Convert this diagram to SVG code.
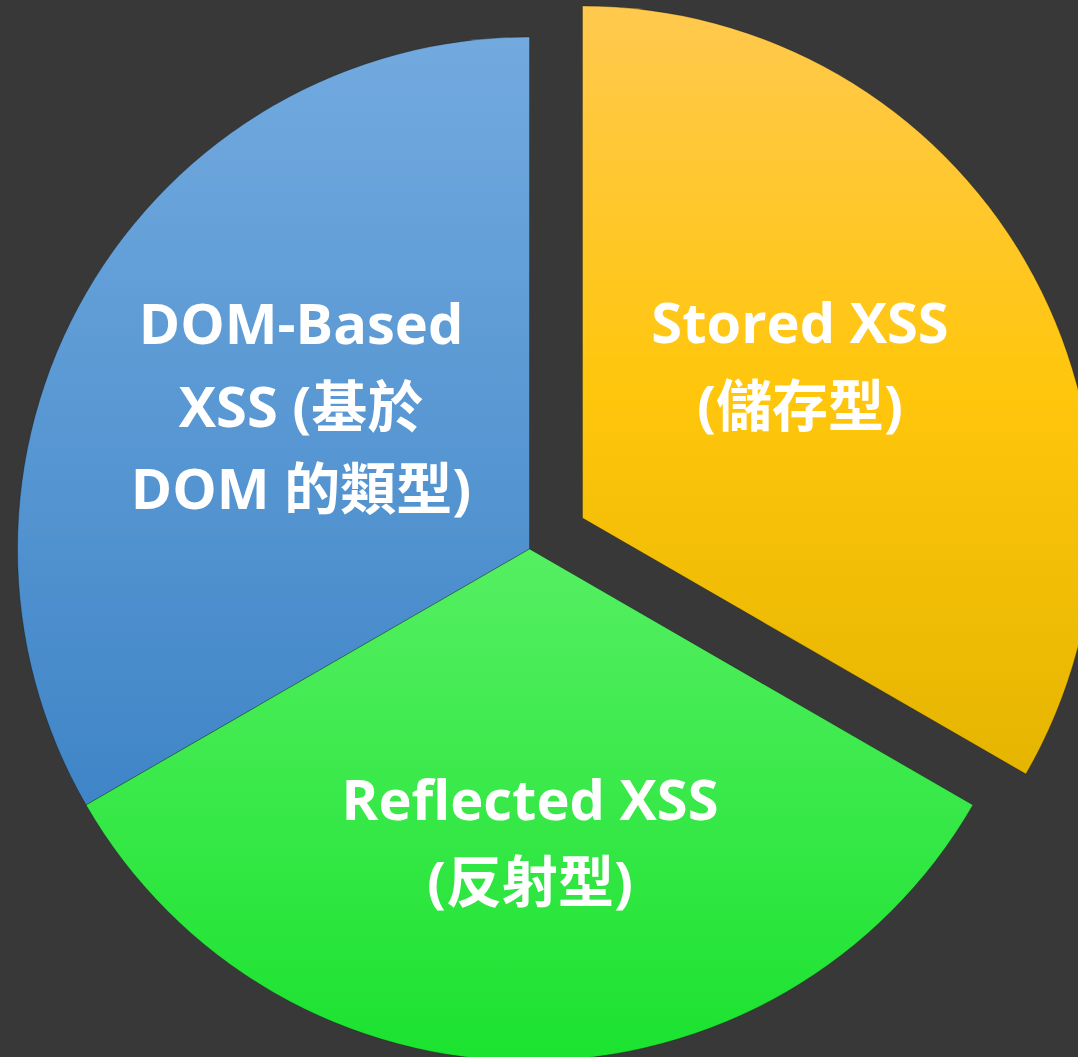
<svg xmlns="http://www.w3.org/2000/svg" width="1078" height="1057" viewBox="0 0 1078 1057">
<style>
.slice{stroke:rgba(0,0,0,0.25);stroke-width:1}
.lbl{font-family:"Open Sans","Noto Sans CJK TC",sans-serif;font-weight:bold;font-size:56px;fill:#ffffff;text-anchor:middle}
</style>
<defs>
<linearGradient id="gBlue" x1="0" y1="0" x2="0" y2="1">
<stop offset="0" stop-color="#72aadf"/>
<stop offset="1" stop-color="#3f85c7"/>
</linearGradient>
<linearGradient id="gYellow" x1="0" y1="0" x2="0" y2="1">
<stop offset="0" stop-color="#ffc94e"/>
<stop offset="0.5" stop-color="#ffc60c"/>
<stop offset="1" stop-color="#e5b500"/>
</linearGradient>
<linearGradient id="gGreen" x1="0" y1="0" x2="0" y2="1">
<stop offset="0" stop-color="#55ef62"/>
<stop offset="1" stop-color="#1be22f"/>
</linearGradient>
</defs>
<rect width="1078" height="1057" fill="#383838"/>
<g id="dom-based">
<path class="slice" d="M529.5,549 L529.5,37 A512,512 0 0 0 86.1,805 Z" fill="url(#gBlue)"/>
<text class="lbl" x="301" y="344">DOM-Based</text>
<text class="lbl" x="301" y="427">XSS (基於</text>
<text class="lbl" x="301" y="509">DOM 的類型)</text>
</g>
<g id="reflected">
<path class="slice" d="M529.5,549 L86.1,805 A512,512 0 0 0 972.9,805 Z" fill="url(#gGreen)"/>
<text class="lbl" x="530" y="820">Reflected XSS</text>
<text class="lbl" x="530" y="902">(反射型)</text>
</g>
<g id="stored">
<path class="slice" d="M582.5,518 L582.5,6 A512,512 0 0 1 1025.9,774 Z" fill="url(#gYellow)"/>
<text class="lbl" x="800" y="343">Stored XSS</text>
<text class="lbl" x="800" y="426">(儲存型)</text>
</g>
<g id="connectors"></g>
</svg>
